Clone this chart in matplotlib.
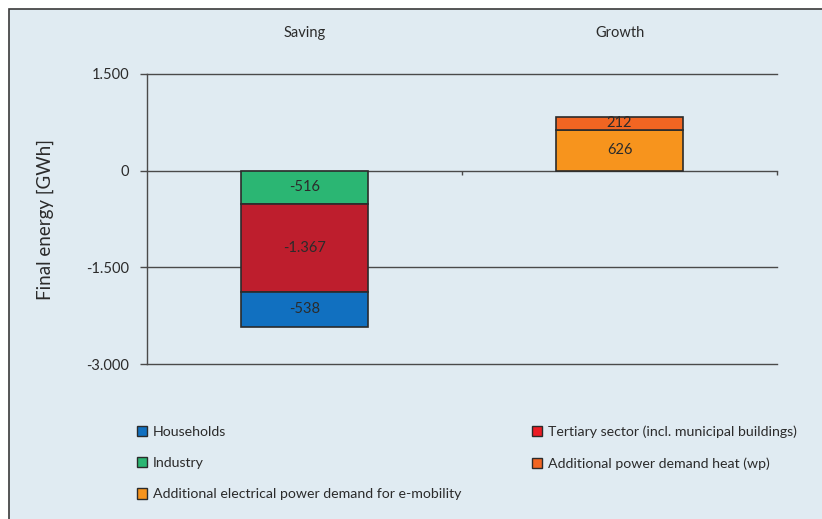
import matplotlib.pyplot as plt
from matplotlib.patches import Patch, Rectangle
from matplotlib.ticker import FuncFormatter
import matplotlib.transforms as mtransforms

plt.rcParams['font.family'] = ['Lato', 'DejaVu Sans']

# Final energy change per scenario [GWh]
categories = ['Saving', 'Growth']
households = [-538, 0]
tertiary = [-1367, 0]
industry = [-516, 0]
heat = [0, 212]
emobility = [0, 626]

y_ticks = [-3000, -1500, 0, 1500]

c_house = '#1170c0'
c_tert = '#be1e2d'
c_tert_legend = '#ed1c24'
c_ind = '#2bb673'
c_heat = '#f26522'
c_emob = '#f7941d'
edge = '#2b2b2b'
text_c = '#2b2b2b'
panel = '#e0ebf2'


def de_format(v, pos=None):
    # thousands separated with a dot
    return f'{int(v):,}'.replace(',', '.')


fig = plt.figure(figsize=(8.22, 5.19), dpi=100)
fig.patches.append(Rectangle((9 / 822, -0.01), 1.0, 1 - 9 / 519 + 0.01,
                             transform=fig.transFigure, facecolor=panel,
                             edgecolor='#3a3a3a', lw=1.2, zorder=-10))

ax = fig.add_axes([147 / 822, 1 - 364 / 519, 630 / 822, 290 / 519])
ax.set_facecolor('none')
ax.set_xlim(-0.5, 1.5)
ax.set_ylim(-3000, 1500)

# horizontal reference lines
for t in y_ticks:
    ax.axhline(t, color='#4a4a4a', lw=1.0, zorder=1, clip_on=False)
ax.vlines([0.5, 1.5], -60, 0, color='#4a4a4a', lw=1.0, zorder=1, clip_on=False)

width = 0.406
x = range(len(categories))

# saving bar, stacked downward from zero
bottom = [0, 0]
for vals, col in [(industry, c_ind), (tertiary, c_tert), (households, c_house)]:
    for i in x:
        if vals[i] != 0:
            ax.bar(i, vals[i], width, bottom=bottom[i], color=col,
                   edgecolor=edge, lw=1.2, zorder=3)
            ax.text(i, bottom[i] + vals[i] / 2, de_format(vals[i]),
                    ha='center', va='center', fontsize=10.5, color=text_c, zorder=4)
            bottom[i] += vals[i]

# growth bar, stacked upward
bottom = [0, 0]
for vals, col in [(emobility, c_emob), (heat, c_heat)]:
    for i in x:
        if vals[i] != 0:
            ax.bar(i, vals[i], width, bottom=bottom[i], color=col,
                   edgecolor=edge, lw=1.2, zorder=3)
            ax.text(i, bottom[i] + vals[i] / 2, de_format(vals[i]),
                    ha='center', va='center', fontsize=10.5, color=text_c, zorder=4)
            bottom[i] += vals[i]

for s in ['top', 'right', 'bottom']:
    ax.spines[s].set_visible(False)
ax.spines['left'].set_color('#4a4a4a')
ax.spines['left'].set_linewidth(1.0)

ax.set_yticks(y_ticks)
ax.yaxis.set_major_formatter(FuncFormatter(de_format))
ax.tick_params(axis='y', direction='out', length=5, width=1.0, color='#4a4a4a',
               labelsize=10.5, labelcolor=text_c, pad=8)
ax.set_xticks([])

trans = mtransforms.blended_transform_factory(ax.transData, ax.transAxes)
for i, name in enumerate(categories):
    ax.text(i, 1 + 41 / 290, name, transform=trans, ha='center', va='center',
            fontsize=10.5, color=text_c)

ax.set_ylabel('Final energy [GWh]', fontsize=13.5, color=text_c, labelpad=23)

# legend in two columns
def handle(c):
    return Patch(facecolor=c, edgecolor=edge, lw=1.0)

leg_kw = dict(frameon=False, fontsize=10.2, handlelength=0.75, handleheight=0.75,
              handletextpad=0.4, labelspacing=1.35, labelcolor=text_c,
              loc='upper left', borderaxespad=0)
fig.legend([handle(c_house), handle(c_ind), handle(c_emob)],
           ['Households', 'Industry',
            'Additional electrical power demand for e-mobility'],
           bbox_to_anchor=(131 / 822, 1 - 420 / 519), **leg_kw)
fig.legend([handle(c_tert_legend), handle(c_heat)],
           ['Tertiary sector (incl. municipal buildings)',
            'Additional power demand heat (wp)'],
           bbox_to_anchor=(526 / 822, 1 - 420 / 519), **leg_kw)

fig.savefig('out.png', dpi=100)
